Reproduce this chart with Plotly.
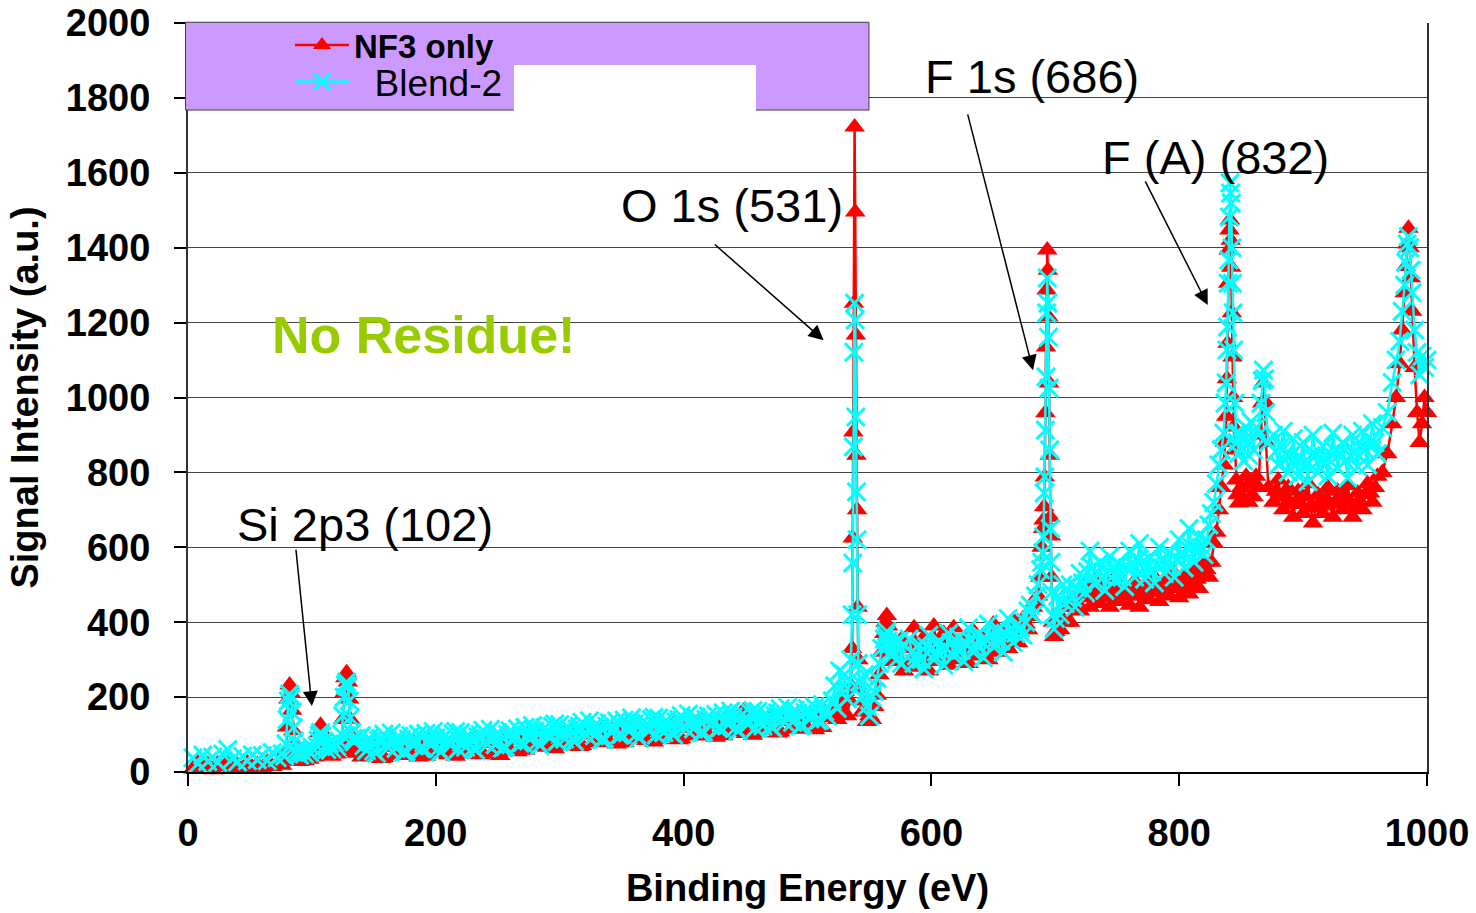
import plotly.graph_objects as go

# ---- XPS survey spectra: binding energy (eV) vs signal intensity (a.u.) ----
# Low-energy baseline
energy_a = [4, 8, 12, 16, 20, 24, 28, 32, 36, 40, 44, 48, 52, 56, 60, 64, 68, 72, 76]
nf3_a = [8, 25, 12, 20, 6, 22, 14, 28, 10, 18, 8, 24, 12, 20, 10, 26, 15, 22, 18]
blend_a = [38, 22, 45, 28, 40, 25, 48, 60, 35, 27, 42, 30, 46, 33, 44, 30, 52, 38, 48]

# Si 2p region
energy_b = [78, 79, 80, 81, 82, 83, 84, 85, 86, 87, 88, 90, 92, 94, 96, 98, 100, 102, 104,
            105, 106, 107, 108, 109, 110, 112, 114, 116, 118, 120, 122, 124, 125, 126, 127,
            128, 129, 130, 131, 132, 133, 134, 136]
nf3_b = [30, 55, 120, 195, 232, 210, 165, 110, 70, 45, 35, 28, 38, 30, 42, 34, 45, 40, 55,
         80, 105, 125, 108, 75, 52, 45, 58, 42, 60, 48, 62, 85, 140, 210, 252,
         265, 240, 195, 140, 95, 68, 55, 50]
blend_b = [42, 75, 140, 190, 208, 198, 160, 118, 82, 58, 50, 45, 55, 48, 62, 52, 66, 58, 70,
           85, 98, 105, 96, 82, 68, 60, 75, 62, 80, 68, 82, 100, 150, 200, 232,
           240, 228, 190, 145, 105, 88, 80, 90]

# Slowly rising background 140-516 eV, 2 eV steps:
# readings at 140, 144, ... 516 eV and at 142, 146, ... 514 eV
nf3_c_at_4n = [40, 72, 53, 79, 36, 68, 77, 50, 85, 59,
               45, 74, 84, 42, 68, 55, 82, 51, 75, 42,
               48, 81, 61, 88, 46, 77, 87, 60, 44, 71,
               58, 88, 99, 58, 84, 73, 100, 71, 95, 62,
               70, 103, 84, 110, 68, 100, 110, 84, 118, 93,
               80, 109, 120, 78, 105, 93, 119, 89, 113, 80,
               87, 120, 101, 128, 86, 118, 128, 102, 136, 111,
               98, 127, 138, 97, 123, 111, 138, 163, 131, 98,
               105, 138, 119, 146, 104, 136, 146, 120, 155, 130,
               117, 147, 159, 119, 146]
nf3_c_between = [70, 45, 81, 56, 39, 76, 66, 44, 87, 53,
                 79, 40, 70, 82, 53, 87, 60, 46, 79, 70,
                 78, 54, 89, 65, 49, 85, 76, 54, 98, 65,
                 92, 54, 85, 98, 69, 105, 78, 66, 99, 90,
                 100, 76, 112, 87, 71, 108, 99, 78, 120, 87,
                 114, 75, 106, 118, 90, 125, 97, 84, 117, 108,
                 117, 93, 129, 105, 89, 126, 117, 96, 138, 105,
                 132, 93, 124, 137, 108, 143, 116, 103, 135, 126,
                 135, 111, 147, 123, 107, 144, 135, 114, 157, 124,
                 151, 113, 145, 159]
blend_c_at_4n = [97, 57, 81, 50, 90, 71, 104, 63, 87, 55,
                 97, 79, 62, 103, 71, 91, 53, 98, 71, 108,
                 105, 66, 89, 59, 100, 80, 114, 73, 98, 67,
                 110, 93, 77, 119, 87, 109, 71, 118, 91, 128,
                 127, 88, 112, 81, 122, 103, 137, 97, 120, 89,
                 132, 114, 98, 139, 108, 129, 90, 136, 109, 146,
                 144, 105, 129, 99, 140, 121, 155, 115, 138, 107,
                 150, 132, 116, 158, 126, 147, 109, 155, 127, 164,
                 162, 123, 147, 117, 158, 139, 173, 133, 157, 126,
                 169, 152, 137, 180, 149]
blend_c_between = [70, 90, 56, 84, 101, 65, 79, 95, 53, 88,
                    70, 101, 64, 84, 108, 62, 93, 79, 102, 61,
                    78, 99, 64, 93, 111, 74, 89, 105, 64, 100,
                    83, 115, 79, 100, 124, 80, 111, 99, 122, 81,
                    100, 121, 87, 115, 133, 97, 112, 129, 86, 122,
                    105, 136, 100, 120, 145, 100, 130, 117, 140, 99,
                    117, 138, 104, 133, 151, 115, 130, 147, 104, 140,
                    123, 154, 118, 139, 163, 118, 149, 136, 158, 117,
                    135, 156, 122, 151, 169, 133, 148, 165, 123, 159,
                    142, 174, 139, 161]


def interleave(on_grid, between):
    merged = []
    for a, b in zip(on_grid, between):
        merged += [a, b]
    return merged + on_grid[len(between):]


energy_c = list(range(140, 517, 2))
nf3_c = interleave(nf3_c_at_4n, nf3_c_between)
blend_c = interleave(blend_c_at_4n, blend_c_between)

# O 1s region
energy_d = [520, 522, 524, 526, 528, 530, 532, 534, 535, 536, 536.5, 537, 537.5, 538, 538.5,
            539, 539.5, 540, 540.5, 541, 542, 544, 546, 548, 550, 552, 554, 556, 558, 560,
            562, 563, 564, 565, 566, 568, 570, 572, 574, 576, 578]
nf3_d = [150, 175, 140, 200, 165, 215, 150, 190, 230, 330, 625, 908, 1252, 1722, 1495,
         1167, 846, 700, 440, 300, 225, 160, 190, 135, 150, 140, 175, 205, 260, 320,
         370, 400, 418, 390, 360, 320, 295, 340, 300, 355, 270]
blend_d = [190, 230, 170, 270, 210, 260, 195, 245, 300, 420, 558, 868, 1121, 1252, 1207,
           948, 748, 620, 420, 290, 240, 200, 260, 175, 150, 200, 215, 250, 290, 330,
           355, 365, 375, 350, 340, 310, 345, 300, 350, 290, 340]

# Plateau 582-686 eV
energy_e = list(range(582, 687, 2))
nf3_e = [280, 330, 385, 340, 300, 325, 360, 315, 270, 330, 390, 340, 295, 330, 370, 320,
         285, 335, 385, 340, 300, 330, 355, 320, 290, 335, 375, 340, 310, 345, 365, 330,
         300, 350, 395, 355, 320, 350, 380, 350, 330, 370, 405, 375, 345, 380, 410, 395,
         380, 415, 440, 455, 470]
blend_e = [355, 320, 290, 310, 340, 300, 275, 335, 365, 330, 300, 320, 350, 325, 285, 330,
           370, 345, 310, 330, 360, 325, 295, 345, 385, 350, 320, 340, 370, 350, 305, 355,
           395, 360, 335, 355, 380, 350, 320, 370, 410, 375, 345, 370, 395, 385, 365, 400,
           430, 445, 420, 470, 500]

# F 1s region
energy_f = [688, 689, 690, 690.5, 691, 691.5, 692, 692.5, 693, 693.5, 694, 694.5, 695,
            695.5, 696, 696.5, 697, 698, 699, 700, 702, 704, 706, 708]
nf3_f = [520, 600, 650, 673, 708, 788, 959, 1135, 1287, 1394, 1340, 1215, 1039,
         846, 680, 630, 520, 400, 362, 375, 420, 380, 440, 400]
blend_f = [540, 560, 585, 628, 745, 788, 913, 1055, 1226, 1319, 1252, 1161, 1025,
           860, 650, 560, 480, 420, 382, 410, 470, 420, 500, 450]

# Plateau 712-824 eV
energy_g = list(range(712, 825, 2))
nf3_g = [400, 440, 470, 450, 430, 465, 500, 470, 440, 475, 510, 480, 450, 470, 490, 465,
         440, 480, 520, 485, 455, 475, 495, 470, 445, 480, 510, 475, 440, 470, 500, 480,
         460, 490, 520, 485, 455, 480, 505, 490, 470, 500, 530, 495, 465, 490, 520, 495,
         475, 505, 540, 515, 490, 525, 560, 540, 520]
blend_g = [500, 465, 440, 490, 530, 505, 480, 535, 590, 545, 500, 530, 560, 520, 485, 530,
           575, 545, 510, 535, 555, 520, 495, 545, 590, 555, 520, 565, 610, 560, 515, 545,
           570, 535, 505, 555, 600, 565, 530, 560, 585, 550, 520, 570, 620, 580, 545, 600,
           650, 600, 560, 595, 630, 600, 580, 620, 660]

# F Auger region
energy_h = [826, 828, 830, 832, 834, 836, 837, 838, 838.5, 839, 839.5, 840, 840.5, 841,
            841.5, 842, 842.5, 843, 843.5, 844, 845, 846, 847, 848, 850, 852, 854, 856,
            858, 860, 862]
nf3_h = [560, 610, 640, 700, 760, 820, 880, 950, 1050, 1145, 1305, 1394, 1447, 1474,
         1420, 1348, 1226, 1108, 1000, 921, 860, 780, 740, 718, 760, 730, 790, 720,
         770, 735, 790]
blend_h = [690, 720, 770, 820, 860, 905, 985, 1039, 1127, 1188, 1305, 1367, 1482, 1573,
           1546, 1519, 1400, 1305, 1226, 1127, 985, 905, 880, 850, 900, 830, 920, 845,
           935, 860, 920]

energy_i = [864, 866, 867, 868, 869, 870, 872]
nf3_i = [760, 900, 985, 1039, 990, 880, 760]
blend_i = [900, 985, 1045, 1073, 1050, 960, 880]

# Plateau 876-960 eV
energy_j = list(range(876, 961, 2))
nf3_j = [720, 750, 780, 735, 700, 735, 760, 715, 680, 720, 750, 715, 690, 735, 770, 710,
         665, 705, 740, 710, 690, 730, 760, 715, 680, 720, 750, 725, 700, 735, 765, 720,
         680, 710, 745, 720, 700, 740, 770, 745, 720, 760, 790]
blend_j = [900, 855, 820, 870, 910, 850, 800, 845, 890, 835, 790, 840, 880, 820, 775, 845,
           900, 845, 800, 835, 870, 825, 790, 850, 905, 855, 810, 850, 880, 830, 785, 845,
           900, 855, 815, 865, 910, 860, 820, 880, 930, 880, 850]

energy_k = [964, 968, 972, 975, 978, 980, 982, 983, 984, 985, 986, 987, 988, 990, 992,
            994, 996, 998, 1000]
nf3_k = [800, 850, 930, 1000, 1090, 1180, 1280, 1350, 1410, 1452, 1400, 1320, 1230, 1080,
         960, 880, 930, 1000, 960]
blend_k = [920, 960, 1040, 1100, 1150, 1230, 1300, 1360, 1410, 1430, 1400, 1340, 1280, 1180,
           1120, 1060, 1110, 1080, 1100]

energy = (energy_a + energy_b + energy_c + energy_d + energy_e + energy_f + energy_g
          + energy_h + energy_i + energy_j + energy_k)
nf3_only = (nf3_a + nf3_b + nf3_c + nf3_d + nf3_e + nf3_f + nf3_g
            + nf3_h + nf3_i + nf3_j + nf3_k)
blend_2 = (blend_a + blend_b + blend_c + blend_d + blend_e + blend_f + blend_g
           + blend_h + blend_i + blend_j + blend_k)
assert len(energy) == len(nf3_only) == len(blend_2)

# Peak labels: (text, label x, label y, arrow tail x, tail y, head x, head y)
peak_labels = [
    ("Si 2p3 (102)", 143, 660, 87, 598, 100, 176),
    ("O 1s (531)", 439, 1514, 424, 1412, 513, 1153),
    ("F 1s (686)", 681, 1856, 629, 1760, 682, 1073),
    ("F (A) (832)", 829, 1642, 772, 1581, 823, 1247),
]

FONT = "Arial, Liberation Sans, sans-serif"

fig = go.Figure()
fig.add_trace(go.Scatter(
    x=energy, y=nf3_only, name="<b>NF3 only</b>", mode="lines+markers",
    line=dict(color="#FF0000", width=2.5),
    marker=dict(symbol="triangle-up", size=18, color="#FF0000"),
    cliponaxis=False, legend="legend",
))
fig.add_trace(go.Scatter(
    x=energy, y=blend_2, name="\u00a0\u00a0Blend-2", mode="lines+markers",
    line=dict(color="#00FFFF", width=2.5),
    marker=dict(symbol="x-thin", size=18, color="#00FFFF",
                line=dict(color="#00FFFF", width=3)),
    cliponaxis=False, legend="legend2",
))

for text, tx, ty, ax, ay, hx, hy in peak_labels:
    fig.add_annotation(x=tx, y=ty, text=text, showarrow=False,
                       font=dict(family=FONT, size=47, color="black"))
    fig.add_annotation(x=hx, y=hy, ax=ax, ay=ay, axref="x", ayref="y",
                       text="", showarrow=True, arrowhead=2, arrowsize=2,
                       arrowwidth=1.5, arrowcolor="black")

fig.add_annotation(x=190, y=1167, text="<b>No Residue!</b>", showarrow=False,
                   font=dict(family=FONT, size=52, color="#99CC00"))

# Legend panel
fig.add_shape(type="rect", xref="paper", yref="paper",
              x0=-0.002, x1=0.5496, y0=0.8838, y1=1.001,
              fillcolor="#CC99FF", line=dict(color="#404040", width=1), layer="above")
fig.add_shape(type="rect", xref="paper", yref="paper",
              x0=0.2631, x1=0.4584, y0=0.882, y1=0.9439,
              fillcolor="white", line=dict(width=0), layer="above")

legend_common = dict(xanchor="left", yanchor="middle", bgcolor="rgba(0,0,0,0)",
                     borderwidth=0, itemwidth=54)

fig.update_layout(
    width=1476, height=913,
    margin=dict(l=188, r=49, t=23, b=141),
    paper_bgcolor="white", plot_bgcolor="white",
    font=dict(family=FONT, color="black"),
    showlegend=True,
    legend=dict(x=0.0823, y=0.9706,
                font=dict(family=FONT, size=33, color="black"), **legend_common),
    legend2=dict(x=0.0823, y=0.9212,
                 font=dict(family=FONT, size=37, color="black"), **legend_common),
    xaxis=dict(range=[0, 1000], dtick=200, tick0=0, automargin=False,
               showgrid=False, zeroline=False,
               showline=True, linecolor="black", linewidth=2,
               ticks="outside", ticklen=12, tickwidth=1.5, tickcolor="black",
               tickfont=dict(family=FONT, size=38, weight="bold"),
               ticklabelstandoff=14,
               title=dict(text="<b>Binding Energy (eV)</b>",
                          font=dict(family=FONT, size=38), standoff=22)),
    yaxis=dict(range=[0, 2000], dtick=200, tick0=0, automargin=False,
               showgrid=True, gridcolor="#444444", gridwidth=1,
               zeroline=False,
               showline=True, linecolor="#333333", linewidth=2, mirror=True,
               ticks="outside", ticklen=12, tickwidth=1.5, tickcolor="black",
               tickfont=dict(family=FONT, size=38, weight="bold"),
               ticklabelstandoff=16,
               title=dict(text="<b>Signal Intensity (a.u.)</b>",
                          font=dict(family=FONT, size=38), standoff=16)),
)

fig.write_html("out.html")
